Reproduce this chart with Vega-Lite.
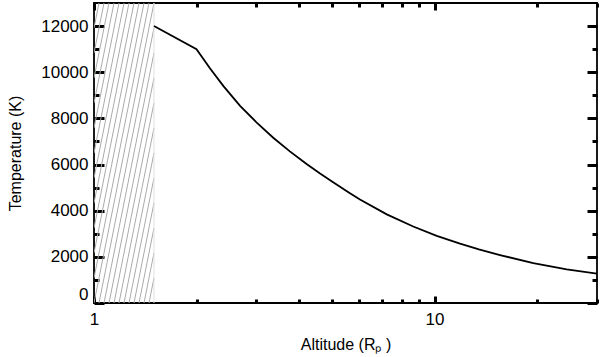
{
  "$schema": "https://vega.github.io/schema/vega-lite/v6.json",
  "width": 503,
  "height": 300,
  "autosize": {"type": "none"},
  "padding": {"left": 94, "top": 3, "right": 3, "bottom": 54},
  "background": "white",
  "config": {
    "font": "Liberation Sans",
    "view": {"stroke": "#000", "strokeWidth": 1.8},
    "axis": {"domain": false, "grid": false, "ticks": true, "zindex": 1, "labelColor": "#000", "titleColor": "#000", "labelFontSize": 17, "titleFontSize": 16, "titleFontWeight": "normal", "labelFont": "Liberation Sans", "titleFont": "Liberation Sans"}
  },
  "datasets": {
    "hatchLeft": [
      {"x1": 1, "y1": 11916.7, "x2": 1.0344, "y2": 13000},
      {"x1": 1, "y1": 10833.3, "x2": 1.07, "y2": 13000},
      {"x1": 1, "y1": 9750, "x2": 1.1068, "y2": 13000},
      {"x1": 1, "y1": 8666.7, "x2": 1.1448, "y2": 13000},
      {"x1": 1, "y1": 7583.3, "x2": 1.1842, "y2": 13000},
      {"x1": 1, "y1": 6500, "x2": 1.2249, "y2": 13000},
      {"x1": 1, "y1": 5416.7, "x2": 1.267, "y2": 13000},
      {"x1": 1, "y1": 4333.3, "x2": 1.3106, "y2": 13000},
      {"x1": 1, "y1": 3250, "x2": 1.3557, "y2": 13000},
      {"x1": 1, "y1": 2166.7, "x2": 1.4023, "y2": 13000},
      {"x1": 1, "y1": 1083.3, "x2": 1.4505, "y2": 13000},
      {"x1": 1, "y1": 0, "x2": 1.5, "y2": 13000}
    ],
    "hatchBottom": [
      {"x1": 1.0344, "y1": 0, "x2": 1.5, "y2": 11916.7},
      {"x1": 1.07, "y1": 0, "x2": 1.5, "y2": 10833.3},
      {"x1": 1.1068, "y1": 0, "x2": 1.5, "y2": 9750},
      {"x1": 1.1448, "y1": 0, "x2": 1.5, "y2": 8666.7},
      {"x1": 1.1842, "y1": 0, "x2": 1.5, "y2": 7583.3},
      {"x1": 1.2249, "y1": 0, "x2": 1.5, "y2": 6500},
      {"x1": 1.267, "y1": 0, "x2": 1.5, "y2": 5416.7},
      {"x1": 1.3106, "y1": 0, "x2": 1.5, "y2": 4333.3},
      {"x1": 1.3557, "y1": 0, "x2": 1.5, "y2": 3250},
      {"x1": 1.4023, "y1": 0, "x2": 1.5, "y2": 2166.7},
      {"x1": 1.4505, "y1": 0, "x2": 1.5, "y2": 1083.3}
    ],
    "edge": [{"x": 1.5, "y1": 0, "y2": 13000}],
    "curve": [
      {"altitude": 1.5, "temperature": 12000},
      {"altitude": 2.0, "temperature": 11000},
      {"altitude": 2.19, "temperature": 10170},
      {"altitude": 2.4, "temperature": 9400},
      {"altitude": 2.685, "temperature": 8540},
      {"altitude": 3.0, "temperature": 7830},
      {"altitude": 3.36, "temperature": 7160},
      {"altitude": 3.76, "temperature": 6570},
      {"altitude": 4.21, "temperature": 6025},
      {"altitude": 4.6, "temperature": 5625},
      {"altitude": 5.0, "temperature": 5268},
      {"altitude": 5.6, "temperature": 4790},
      {"altitude": 6.04, "temperature": 4486},
      {"altitude": 7.24, "temperature": 3842},
      {"altitude": 8.66, "temperature": 3313},
      {"altitude": 10.15, "temperature": 2907},
      {"altitude": 11.88, "temperature": 2570},
      {"altitude": 13.5, "temperature": 2320},
      {"altitude": 15.57, "temperature": 2077},
      {"altitude": 19.5, "temperature": 1724},
      {"altitude": 24.45, "temperature": 1455},
      {"altitude": 30, "temperature": 1275}
    ]
  },
  "resolve": {"axis": {"x": "independent", "y": "independent"}},
  "layer": [
    {
      "data": {"name": "hatchLeft"},
      "mark": {"type": "rule", "color": "#ababab", "strokeWidth": 1, "clip": true},
      "encoding": {
        "x": {"field": "x1", "type": "quantitative", "scale": {"type": "log", "domain": [1, 30], "nice": false},
          "axis": {"orient": "bottom", "values": [1, 10], "format": "d", "tickColor": "#000", "tickWidth": 3, "tickSize": -7, "labelPadding": 15, "labelFlush": false, "title": "Altitude (Rₚ )", "titlePadding": 9}},
        "x2": {"field": "x2"},
        "y": {"field": "y1", "type": "quantitative", "scale": {"domain": [0, 13000], "nice": false, "zero": false},
          "axis": {"orient": "left", "values": [0, 2000, 4000, 6000, 8000, 10000, 12000], "format": "d", "tickColor": "#000", "tickWidth": 3, "offset": -10, "tickSize": 10, "labelPadding": 6, "labelFlush": true, "title": "Temperature (K)", "titlePadding": 17}},
        "y2": {"field": "y2"}
      }
    },
    {
      "data": {"name": "hatchBottom"},
      "mark": {"type": "rule", "color": "#ababab", "strokeWidth": 1, "clip": true},
      "encoding": {
        "x": {"field": "x1", "type": "quantitative", "scale": {"type": "log", "domain": [1, 30], "nice": false},
          "axis": {"orient": "bottom", "values": [2, 3, 4, 5, 6, 7, 8, 9, 20, 30], "labels": false, "tickColor": "#000", "tickWidth": 3, "offset": -4, "tickSize": 4, "title": null}},
        "x2": {"field": "x2"},
        "y": {"field": "y1", "type": "quantitative", "scale": {"domain": [0, 13000], "nice": false, "zero": false},
          "axis": {"orient": "left", "values": [1000, 3000, 5000, 7000, 9000, 11000], "labels": false, "tickColor": "#000", "tickWidth": 3, "offset": -5, "tickSize": 5, "title": null}},
        "y2": {"field": "y2"}
      }
    },
    {
      "data": {"name": "edge"},
      "mark": {"type": "rule", "color": "#e0e0e0", "strokeWidth": 1, "clip": true},
      "encoding": {
        "x": {"field": "x", "type": "quantitative", "scale": {"type": "log", "domain": [1, 30], "nice": false},
          "axis": {"orient": "top", "values": [1, 10], "labels": false, "tickColor": "#000", "tickWidth": 3, "tickSize": -7, "title": null}},
        "y": {"field": "y1", "type": "quantitative", "scale": {"domain": [0, 13000], "nice": false, "zero": false},
          "axis": {"orient": "right", "values": [0, 2000, 4000, 6000, 8000, 10000, 12000], "labels": false, "tickColor": "#000", "tickWidth": 3, "offset": -10, "tickSize": 10, "title": null}},
        "y2": {"field": "y2"}
      }
    },
    {
      "data": {"name": "curve"},
      "mark": {"type": "line", "color": "#000", "strokeWidth": 1.8, "clip": true},
      "encoding": {
        "x": {"field": "altitude", "type": "quantitative", "scale": {"type": "log", "domain": [1, 30], "nice": false},
          "axis": {"orient": "top", "values": [2, 3, 4, 5, 6, 7, 8, 9, 20, 30], "labels": false, "tickColor": "#000", "tickWidth": 3, "tickSize": -4, "title": null}},
        "y": {"field": "temperature", "type": "quantitative", "scale": {"domain": [0, 13000], "nice": false, "zero": false},
          "axis": {"orient": "right", "values": [1000, 3000, 5000, 7000, 9000, 11000], "labels": false, "tickColor": "#000", "tickWidth": 3, "offset": -5, "tickSize": 5, "title": null}}
      }
    }
  ]
}
